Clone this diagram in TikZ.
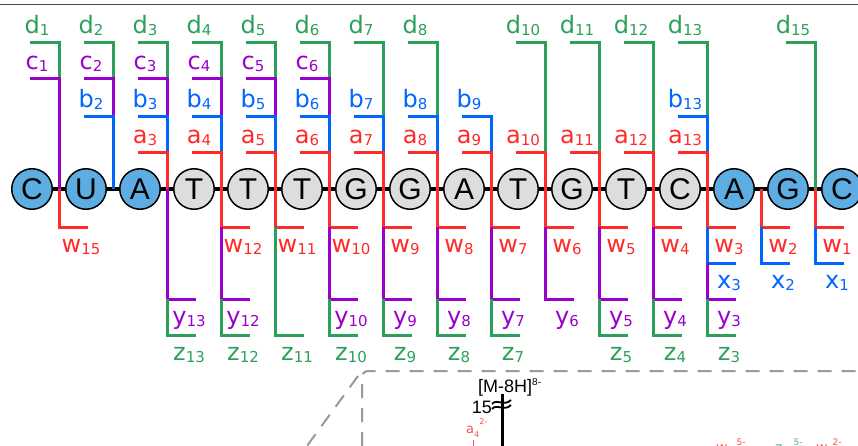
\documentclass[tikz,border=0pt]{standalone}
\usepackage{fontspec}
\setmainfont{DejaVu Sans}
\newfontfamily\ntfont{Liberation Sans}
\usetikzlibrary{positioning}

\definecolor{ionaw}{HTML}{FF2A2A}
\definecolor{ionbx}{HTML}{0066FF}
\definecolor{ioncy}{HTML}{9900CC}
\definecolor{iondz}{HTML}{2CA05A}
\definecolor{ntblue}{HTML}{5DADE2}
\definecolor{ntgray}{HTML}{DDDDDD}
\definecolor{boxgray}{HTML}{999999}
\definecolor{peakred}{HTML}{FF4D4D}
\definecolor{peakgreen}{HTML}{4DB377}

% ion label: letter with a small, slightly lowered index
\newcommand{\ionlbl}[2]{{\fontsize{24}{24}\selectfont #1}{\fontsize{15}{15}\selectfont\raisebox{-2pt}{#2}}}

\begin{document}
\begin{tikzpicture}[x=1pt, y=-1pt,
    nt/.style={circle, draw, line width=1.5pt, minimum size=40.5pt, inner sep=0pt, outer sep=0pt, font=\ntfont\fontsize{30}{30}\selectfont},
    ntend/.style={nt, fill=ntblue},
    ntmid/.style={nt, fill=ntgray},
    backbone/.style={line width=4pt},
    frag/.style={line width=3pt},
    lbl/.style={anchor=base, inner sep=0pt},
    dashline/.style={boxgray, line width=2pt, dash pattern=on 14pt off 10pt},
    peak/.style={line width=3pt},
    speclbl/.style={anchor=base west, inner sep=0pt}
  ]
  \clip (0,0) rectangle (858,446);

  % rule under the (cut) title
  \draw[line width=1pt, black!70] (0,4.5) -- (858,4.5);

  % sequence
  \node[ntend] (n1) at (32,189) {C};
  \foreach \b/\s [count=\i from 2] in {U/ntend, A/ntend, T/ntmid, T/ntmid, T/ntmid, G/ntmid, G/ntmid, A/ntmid,
      T/ntmid, G/ntmid, T/ntmid, C/ntmid, A/ntend, G/ntend, C/ntend} {
    \pgfmathtruncatemacro\j{\i-1}
    \node[\s, right=13.5pt of n\j] (n\i) {\b};
  }
  \foreach \i in {2,...,16} {
    \pgfmathtruncatemacro\j{\i-1}
    \draw[backbone] (n\j) -- (n\i);
  }

  % 5' fragments: cleavage / ion / colour / level / lower end
  \foreach \c/\t/\col/\L/\E in {
      1/d/iondz/43/79, 1/c/ioncy/79/189,
      2/d/iondz/43/79, 2/c/ioncy/79/117, 2/b/ionbx/117/189,
      3/d/iondz/43/79, 3/c/ioncy/79/117, 3/b/ionbx/117/153, 3/a/ionaw/153/189,
      4/d/iondz/43/79, 4/c/ioncy/79/117, 4/b/ionbx/117/153, 4/a/ionaw/153/189,
      5/d/iondz/43/79, 5/c/ioncy/79/117, 5/b/ionbx/117/153, 5/a/ionaw/153/189,
      6/d/iondz/43/79, 6/c/ioncy/79/117, 6/b/ionbx/117/153, 6/a/ionaw/153/189,
      7/d/iondz/43/117, 7/b/ionbx/117/153, 7/a/ionaw/153/189,
      8/d/iondz/43/117, 8/b/ionbx/117/153, 8/a/ionaw/153/189,
      9/b/ionbx/117/153, 9/a/ionaw/153/189,
      10/d/iondz/43/153, 10/a/ionaw/153/189,
      11/d/iondz/43/153, 11/a/ionaw/153/189,
      12/d/iondz/43/153, 12/a/ionaw/153/189,
      13/d/iondz/43/117, 13/b/ionbx/117/153, 13/a/ionaw/153/189,
      15/d/iondz/43/189} {
    \pgfmathsetmacro\cx{5+54*\c}
    \draw[frag, \col] (\cx-29,\L) -- (\cx,\L) -- (\cx,\E);
    \node[lbl, text=\col] (\t\c) at (\cx-22,\L-9) {\ionlbl{\t}{\c}};
  }

  % 3' fragments: cleavage / ion / colour / upper end / level
  \foreach \c/\t/\col/\S/\L in {
      1/w/ionaw/189/227,
      3/y/ioncy/189/299, 3/z/iondz/299/335,
      4/w/ionaw/189/227, 4/y/ioncy/227/299, 4/z/iondz/299/335,
      5/w/ionaw/189/227, 5/z/iondz/227/335,
      6/w/ionaw/189/227, 6/y/ioncy/227/299, 6/z/iondz/299/335,
      7/w/ionaw/189/227, 7/y/ioncy/227/299, 7/z/iondz/299/335,
      8/w/ionaw/189/227, 8/y/ioncy/227/299, 8/z/iondz/299/335,
      9/w/ionaw/189/227, 9/y/ioncy/227/299, 9/z/iondz/299/335,
      10/w/ionaw/189/227, 10/y/ioncy/227/299,
      11/w/ionaw/189/227, 11/y/ioncy/227/299, 11/z/iondz/299/335,
      12/w/ionaw/189/227, 12/y/ioncy/227/299, 12/z/iondz/299/335,
      13/w/ionaw/189/227, 13/x/ionbx/227/263, 13/y/ioncy/263/299, 13/z/iondz/299/335,
      14/w/ionaw/189/227, 14/x/ionbx/227/263,
      15/w/ionaw/189/227, 15/x/ionbx/227/263} {
    \pgfmathsetmacro\cx{5+54*\c}
    \pgfmathtruncatemacro\n{16-\c}
    \draw[frag, \col] (\cx,\S) -- (\cx,\L) -- (\cx+29,\L);
    \node[lbl, text=\col] (\t\n) at (\cx+22,\L+25) {\ionlbl{\t}{\n}};
  }

  % spectrum inset (cut)
  \draw[dashline, rounded corners=6pt] (362,470) -- (362,371) -- (880,371);
  \draw[dashline] (358,376) -- (296,461);
  \node[speclbl, font=\ntfont\fontsize{18}{18}\selectfont] (parent) at (478,392)
    {[M-8H]\raisebox{7pt}{\fontsize{10}{10}\selectfont 8-}};
  \coordinate (pk) at (502,394);
  \coordinate (pkend) at (502,470);
  \draw[peak] (pk) -- (pkend);
  \node[anchor=base east, inner sep=0pt, font=\ntfont\fontsize{18}{18}\selectfont] (brk) at (492,413) {15};
  \draw[line width=1.8pt] (492,404) .. controls (497,398) and (504,407) .. (511,400);
  \draw[line width=1.8pt] (492,409) .. controls (497,403) and (504,412) .. (511,405);
  \node[speclbl, text=peakred] (a4c) at (466,433)
    {{\fontsize{13}{13}\selectfont a}{\fontsize{8}{8}\selectfont\raisebox{-4pt}{4}\raisebox{9pt}{2-}}};
  \coordinate (a4pk) at (473,440);
  \coordinate (a4end) at (473,470);
  \draw[peakred, line width=1pt] (a4pk) -- (a4end);
  \node[speclbl, text=peakred] (w5c) at (716,452)
    {{\fontsize{14}{14}\selectfont w}\hspace{9pt}{\fontsize{9}{9}\selectfont\raisebox{6.5pt}{5-}}};
  \node[speclbl, text=peakgreen] (z5c) at (775,452)
    {{\fontsize{14}{14}\selectfont z}\hspace{11pt}{\fontsize{9}{9}\selectfont\raisebox{6.5pt}{5-}}};
  \node[speclbl, text=peakred] (w2c) at (816,452)
    {{\fontsize{14}{14}\selectfont w}\hspace{5pt}{\fontsize{9}{9}\selectfont\raisebox{6.5pt}{2-}}};
\end{tikzpicture}
\end{document}
